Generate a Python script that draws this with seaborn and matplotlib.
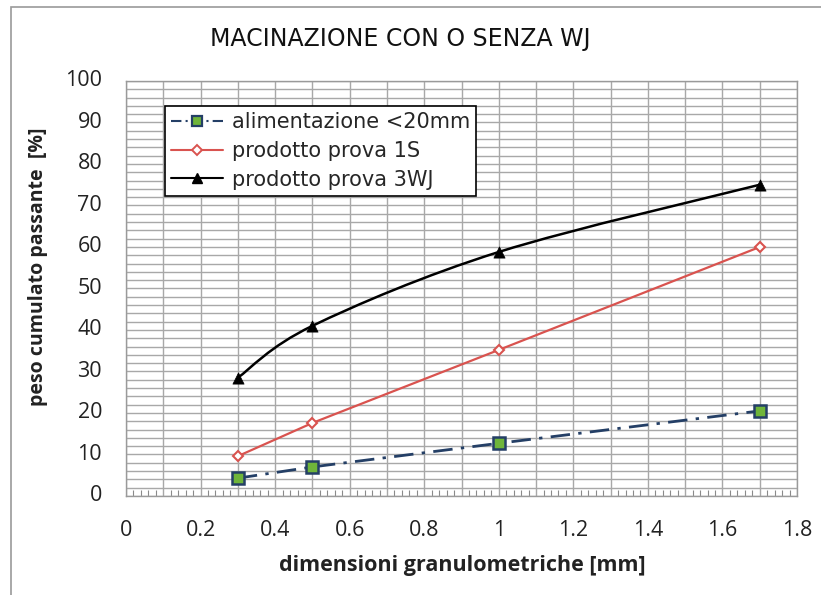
import matplotlib
matplotlib.use("Agg")
import matplotlib.pyplot as plt
from matplotlib.path import Path
from matplotlib.patches import PathPatch, Rectangle
from matplotlib.lines import Line2D
import numpy as np
import pandas as pd
import seaborn as sns

# Granulometric sizes [mm] and cumulative passing weight [%]
dimensioni = [0.3, 0.5, 1.0, 1.7]
alimentazione = [4.3, 7.0, 12.7, 20.5]
prova_1s = [9.6, 17.6, 35.2, 60.0]
prova_3wj = [28.5, 41.0, 58.8, 75.0]

serie_nomi = ["alimentazione <20mm", "prodotto prova 1S", "prodotto prova 3WJ"]
xtick_valori = [0, 0.2, 0.4, 0.6, 0.8, 1.0, 1.2, 1.4, 1.6, 1.8]
xtick_testi = ["0", "0.2", "0.4", "0.6", "0.8", "1", "1.2", "1.4", "1.6", "1.8"]
ytick_valori = list(range(0, 101, 10))

sns.set_theme(style="white")
plt.rcParams["font.family"] = ["DejaVu Sans"]

df = pd.DataFrame({
    "x": dimensioni * 3,
    "y": alimentazione + prova_1s + prova_3wj,
    "serie": sum([[n] * len(dimensioni) for n in serie_nomi], []),
})

fig = plt.figure(figsize=(8.21, 5.95), dpi=100)
ax = fig.add_axes([0.1535, 0.1664, 0.8173, 0.6975])

# outer chart frame
fig.patches.append(Rectangle((11 / 821, -0.05), 1.0, 1 - 7 / 595 + 0.05,
                             transform=fig.transFigure, fill=False,
                             edgecolor="#9a9a9a", linewidth=1.2))

navy = "#243f66"
green = "#6fb53a"
red = "#d9534f"

# feed: dash-dot line with square markers
sub = df[df["serie"] == serie_nomi[0]]
sns.lineplot(data=sub, x="x", y="y", ax=ax, color=navy, linewidth=2.0,
             marker="s", markersize=8, markerfacecolor=green,
             markeredgecolor=navy, markeredgewidth=1.8, legend=False, zorder=3)
ax.lines[-1].set_dashes([7, 3, 1.2, 3])

# test 1S: straight red line with hollow diamonds
sub = df[df["serie"] == serie_nomi[1]]
sns.lineplot(data=sub, x="x", y="y", ax=ax, color=red, linewidth=1.6,
             marker="D", markersize=5.5, markerfacecolor="white",
             markeredgecolor=red, markeredgewidth=1.5, legend=False, zorder=3)

# test 3WJ: smoothed curve through the points (Bezier segments)
sub = df[df["serie"] == serie_nomi[2]]
px = np.array(sub["x"])
py = np.array(sub["y"])
verts = [(px[0], py[0])]
codes = [Path.MOVETO]
n = len(px)
for i in range(n - 1):
    i0 = max(i - 1, 0)
    i3 = min(i + 2, n - 1)
    c1 = (px[i] + (px[i + 1] - px[i0]) / 6, py[i] + (py[i + 1] - py[i0]) / 6)
    c2 = (px[i + 1] - (px[i3] - px[i]) / 6, py[i + 1] - (py[i3] - py[i]) / 6)
    verts += [c1, c2, (px[i + 1], py[i + 1])]
    codes += [Path.CURVE4] * 3
curva = PathPatch(Path(verts, codes), fill=False, edgecolor="black",
                  linewidth=1.8, zorder=2.5)
ax.add_patch(curva)
sns.scatterplot(data=sub, x="x", y="y", ax=ax, color="black", marker="^",
                s=65, edgecolor="black", linewidth=0.5, zorder=3, legend=False)

# axes, grid and ticks
ax.set_xlim(0, 1.8)
ax.set_ylim(0, 100)
ax.set_xticks(np.arange(0, 1.81, 0.1), minor=False)
ax.set_xticks(np.arange(0, 1.801, 0.02), minor=True)
ax.set_yticks(np.arange(0, 100.1, 2))
ax.grid(True, which="major", color="#a8a8a8", linewidth=1.0)
ax.set_axisbelow(True)
ax.set_xticklabels([])
ax.set_yticklabels([])
ax.tick_params(axis="x", which="minor", direction="in", length=4,
               color="#8a8a8a", width=0.8, bottom=True)
ax.tick_params(axis="both", which="major", length=0)
for s in ax.spines.values():
    s.set_color("#9a9a9a")
    s.set_linewidth(1.0)

tick_font = dict(family=["Open Sans", "DejaVu Sans"], fontsize=15.5, color="#222222")
for v, t in zip(xtick_valori, xtick_testi):
    ax.text(v, -8.2, t, ha="center", va="center", **tick_font)
for v in ytick_valori:
    ax.text(-0.064, v, str(v), ha="right", va="center", **tick_font)

ax.set_xlabel("")
ax.set_ylabel("")
fig.text(0.563, 0.050, "dimensioni granulometriche [mm]", ha="center", va="center",
         fontsize=15.5, fontweight="bold", family=["Open Sans", "DejaVu Sans"],
         color="#222222")
fig.text(0.046, 0.551, "peso cumulato passante  [%]", ha="center", va="center",
         rotation=90, fontsize=14, fontweight="bold",
         family=["Open Sans", "DejaVu Sans"], color="#222222")
fig.text(0.487, 0.934, "MACINAZIONE CON O SENZA WJ", ha="center", va="center",
         fontsize=17, family=["DejaVu Sans"], color="#111111")

# legend
handles = [
    Line2D([], [], color=navy, linewidth=1.5, dashes=[5, 2, 1, 2], marker="s",
           markersize=7, markerfacecolor=green, markeredgecolor=navy,
           markeredgewidth=1.6),
    Line2D([], [], color=red, linewidth=1.5, marker="D", markersize=5,
           markerfacecolor="white", markeredgecolor=red, markeredgewidth=1.4),
    Line2D([], [], color="black", linewidth=1.5, marker="^", markersize=7),
]
leg = ax.legend(handles, serie_nomi, loc="upper left",
                bbox_to_anchor=(0.058, 0.940), frameon=True, fancybox=False,
                edgecolor="black", framealpha=1, handlelength=2.5,
                prop={"family": "DejaVu Sans", "size": 15}, borderpad=0.3,
                labelspacing=0.42, handletextpad=0.4, borderaxespad=0)
leg.get_frame().set_linewidth(1.2)

fig.savefig("out.png", dpi=100)
